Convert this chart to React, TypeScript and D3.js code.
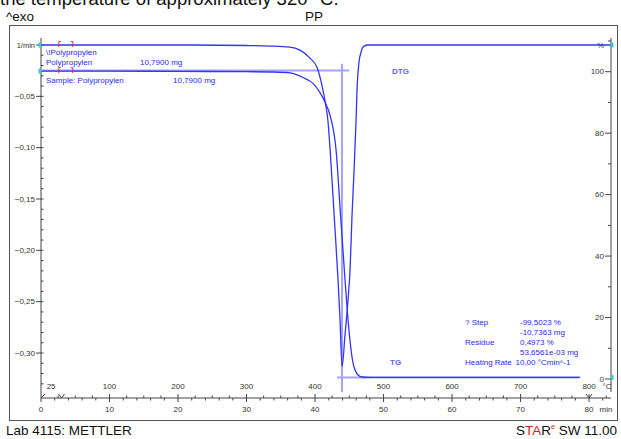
import React from 'react';
import * as d3 from 'd3';

// DTG (1/min), by temperature (°C)
const dtgTemp = [0, 100, 200, 300, 334, 363.5, 378, 393, 403, 410, 415, 419, 422, 428, 433.6, 436.5, 439.4, 443.8, 448.2, 451.1, 454.0, 457.0, 459.9, 461.3, 464.2, 467.2, 470.1, 476, 483, 600, 832];
const dtgValue = [0, 0, 0, -0.0005, -0.001, -0.002, -0.005, -0.013, -0.022, -0.039, -0.056, -0.075, -0.102, -0.167, -0.229, -0.268, -0.3135, -0.282, -0.248, -0.219, -0.1655, -0.1217, -0.073, -0.0438, -0.0166, -0.0068, -0.002, 0, 0, 0, 0];

// TG (%) by temperature (°C)
const tgTemp = [0, 100, 200, 300, 340, 363.5, 382.5, 397, 407, 414.6, 421.9, 430.7, 437.2, 443.8, 448.2, 455.5, 462.8, 468.6, 480, 600, 787];
const tgValue = [100.2, 100.2, 100.1, 100, 99.9, 99.6, 98.1, 96.2, 93.3, 90.1, 85.8, 74.5, 53.4, 32.2, 19.2, 5.2, 1.3, 0.65, 0.5, 0.5, 0.5];

// step evaluation
const stepOnsetLevel = 100.35;
const stepOnsetEnd = 450;
const stepMidTemp = 439.4;
const residueLevel = 0.5;
const residueRange = [432, 785];
const markerTemps = [26, 46.5];

const leftTicks = d3.range(0, 34).map(i => -i / 100);
const leftLabels = [-0.05, -0.10, -0.15, -0.20, -0.25, -0.30];
const rightTicks = d3.range(0, 111, 10);
const rightLabels = [0, 20, 40, 60, 80, 100];
const tempLabels = [100, 200, 300, 400, 500, 600, 700, 800];
const timeLabels = [0, 10, 20, 30, 40, 50, 60, 70, 80];
const startTemp = 25;

const infoLines = ['\\!Polypropylen', 'Polypropylen', 'Sample: Polypropylen'];
const sampleMass = '10,7900 mg';
const resultNames = ['? Step', '', 'Residue', '', 'Heating Rate'];
const resultValues = ['-99,5023 %', '-10,7363 mg', '0,4973 %', '53,6561e-03 mg', '10,00 °Cmin^-1'];

const FONT = 'Liberation Sans, Arial, sans-serif';
const BLUE = '#3434f4';
const LIGHT = '#a4a4ff';
const TXT = '#2a2aee';
const GRAY = '#444';

const comma = (v: number) => d3.format('.2f')(v).replace('.', ',');

export default function App() {
  const left = 41, right = 611, axisY = 398, axisTop = 38;

  const x = d3.scaleLinear().domain([0, 832]).range([left, right]);
  const xTime = d3.scaleLinear().domain([0, 83.2]).range([left, right]);
  const yDtg = d3.scaleLinear().domain([0, -0.30]).range([45, 353]);
  const yTg = d3.scaleLinear().domain([0, 100]).range([379, 71.7]);

  const dtgLine = d3.line<number>()
    .x((_, i) => x(dtgTemp[i]))
    .y(d => yDtg(d))
    .curve(d3.curveMonotoneX);
  const tgLine = d3.line<number>()
    .x((_, i) => x(tgTemp[i]))
    .y(d => yTg(d))
    .curve(d3.curveMonotoneX);

  const timeTicks = d3.range(0, 83, 2);
  const tempTicks = d3.range(25, 830, 25);

  return (
    <svg width={621} height={439} style={{ position: 'absolute', left: 0, top: 0, background: '#fff' }} fontFamily={FONT}>
      {/* cut text from page above */}
      <text x={0} y={4.5} fontSize={18.5} fill="#111">the temperature of approximately 320 °C.</text>
      <text x={6} y={20.5} fontSize={13.5} fill="#111">^exo</text>
      <text x={305} y={20.5} fontSize={13.5} fill="#111">PP</text>

      <rect x={9.5} y={25.5} width={608} height={395} fill="none" stroke="#555" strokeWidth={1} />

      {/* left axis */}
      <line x1={left} x2={left} y1={axisTop} y2={axisY} stroke={GRAY} />
      {leftTicks.map((v, i) => (
        <line key={'lt' + i} x1={i % 5 === 0 ? left - 5 : left} x2={left + 2.5} y1={yDtg(v)} y2={yDtg(v)} stroke={GRAY} />
      ))}
      {leftLabels.map(v => (
        <text key={'ll' + v} x={left - 6} y={yDtg(v) + 2.7} fontSize={8} textAnchor="end" fill="#333">{comma(v)}</text>
      ))}
      <text x={left - 6} y={yDtg(0) + 2.7} fontSize={7.5} textAnchor="end" fill="#333">1/min</text>

      {/* right axis */}
      <line x1={right} x2={right} y1={axisTop} y2={axisY - 6} stroke={GRAY} />
      {rightTicks.map(v => (
        <line key={'rt' + v} x1={v % 20 === 0 ? right - 6 : right - 3} x2={right} y1={yTg(v)} y2={yTg(v)} stroke={GRAY} />
      ))}
      {rightLabels.map(v => (
        <text key={'rl' + v} x={right - 7} y={yTg(v) + 2.7} fontSize={8} textAnchor="end" fill="#333">{v}</text>
      ))}
      <text x={right - 7} y={yDtg(0) + 2.7} fontSize={8} textAnchor="end" fill="#333">%</text>

      {/* bottom axes */}
      <line x1={left} x2={right} y1={axisY} y2={axisY} stroke={GRAY} />
      {timeTicks.map(t => (
        <line key={'tt' + t} x1={xTime(t)} x2={xTime(t)} y1={axisY} y2={axisY + (t % 10 === 0 ? 4 : 2.5)} stroke={GRAY} />
      ))}
      {tempTicks.map(t => (
        <line key={'pt' + t} x1={x(t)} x2={x(t)} y1={axisY} y2={axisY - (t % 100 === 0 ? 4 : 2.5)} stroke={GRAY} />
      ))}
      {tempLabels.map(t => (
        <text key={'pl' + t} x={x(t)} y={axisY - 9} fontSize={8} textAnchor="middle" fill="#333">{t}</text>
      ))}
      <text x={x(startTemp) - 7} y={axisY - 9} fontSize={8} textAnchor="middle" fill="#333">{startTemp}</text>
      <text x={right - 4} y={axisY - 9} fontSize={8} textAnchor="middle" fill="#333">°C</text>
      {timeLabels.map(t => (
        <text key={'tl' + t} x={xTime(t)} y={axisY + 14} fontSize={8} textAnchor="middle" fill="#333">{t}</text>
      ))}
      <text x={right - 5} y={axisY + 14} fontSize={8} textAnchor="middle" fill="#333">min</text>
      {[30, 800].map(t => (
        <path key={'v' + t} d={`M${x(t) - 3},${axisY - 4}L${x(t)},${axisY}L${x(t) + 3},${axisY - 4}`} fill="none" stroke={GRAY} />
      ))}
      <path d={`M${left},${axisY}L${left + 4},${axisY - 4}`} stroke={GRAY} />

      {/* step evaluation lines */}
      <line x1={x(0)} x2={x(stepOnsetEnd)} y1={yTg(stepOnsetLevel)} y2={yTg(stepOnsetLevel)} stroke={LIGHT} strokeWidth={2} />
      <line x1={x(stepMidTemp)} x2={x(stepMidTemp)} y1={yTg(102.6)} y2={yTg(-4.2)} stroke={LIGHT} strokeWidth={2} />
      <line x1={x(residueRange[0])} x2={x(residueRange[1])} y1={yTg(residueLevel)} y2={yTg(residueLevel)} stroke={LIGHT} strokeWidth={2} />

      {/* curves */}
      <path d={dtgLine(dtgValue) || ''} fill="none" stroke={BLUE} strokeWidth={1.3} />
      <path d={tgLine(tgValue) || ''} fill="none" stroke={BLUE} strokeWidth={1.3} />

      {/* segment markers */}
      {[yDtg(0), yTg(tgValue[0])].map((yy, j) => (
        <g key={'m' + j} stroke="#e23030" fill="none" strokeWidth={1}>
          <path d={`M${x(markerTemps[0]) + 2},${yy - 3.5}L${x(markerTemps[0])},${yy - 3.5}L${x(markerTemps[0])},${yy + 2}`} />
          <path d={`M${x(markerTemps[1]) - 2},${yy - 3.5}L${x(markerTemps[1])},${yy - 3.5}L${x(markerTemps[1])},${yy + 2}`} />
        </g>
      ))}
      {[[left - 1, yDtg(0)], [left - 1, yTg(tgValue[0])], [right + 1, yDtg(0)], [right + 1, yTg(residueLevel)]].map(([cx, cy], i) => (
        <rect key={'c' + i} x={cx - 1.5} y={cy - 2.5} width={3} height={5} fill="#45c6c6" />
      ))}

      {/* info text */}
      <text x={46} y={55} fontSize={8} fill={TXT}>{infoLines[0]}</text>
      <text x={46} y={64.5} fontSize={8} fill={TXT}>{infoLines[1]}</text>
      <text x={140} y={64.5} fontSize={8} fill={TXT}>{sampleMass}</text>
      <text x={46} y={82.5} fontSize={8} fill={TXT}>{infoLines[2]}</text>
      <text x={173} y={82.5} fontSize={8} fill={TXT}>{sampleMass}</text>

      <text x={392} y={74} fontSize={8} fontWeight="bold" fill="#6262ff">DTG</text>
      <text x={390} y={365} fontSize={8} fontWeight="bold" fill="#6262ff">TG</text>

      {resultNames.map((n, i) => (
        <text key={'rn' + i} x={465} y={324.5 + i * 10} fontSize={8} fill={TXT}>{n}</text>
      ))}
      {resultValues.map((v, i) => (
        <text key={'rv' + i} x={i === 4 ? 515.5 : 520} y={324.5 + i * 10} fontSize={8} fill={TXT}>{v}</text>
      ))}

      {/* footer */}
      <text x={6} y={435} fontSize={13.5} fill="#111">Lab 4115: METTLER</text>
      <text x={617} y={435} fontSize={13.5} textAnchor="end" fill="#111">
        <tspan>S</tspan><tspan fill="#e01b1b">TA</tspan><tspan>R</tspan><tspan fill="#e01b1b" fontSize={7} dy={-6}>e</tspan><tspan dy={6}> SW 11.00</tspan>
      </text>
    </svg>
  );
}
